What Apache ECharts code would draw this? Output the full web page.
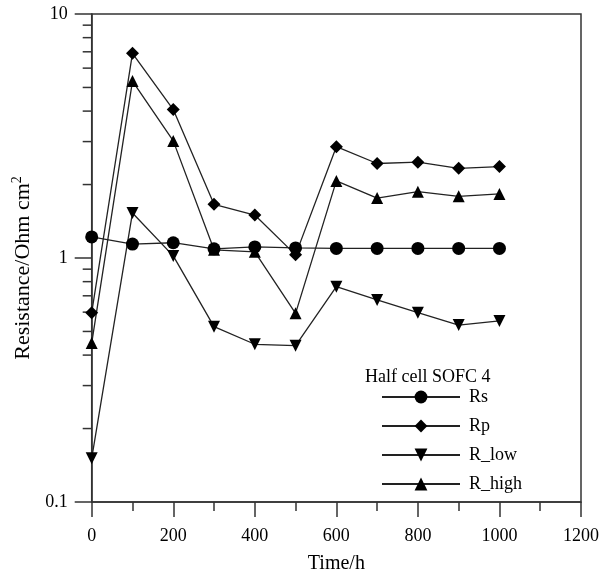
<!DOCTYPE html>
<html>
<head>
<meta charset="utf-8">
<script src="https://cdn.jsdelivr.net/npm/echarts@6/dist/echarts.min.js"></script>
<style>html,body{margin:0;padding:0;background:#fff}#c{width:613px;height:572px}</style>
</head>
<body>
<div id="c"></div>
<script>
const times = [0, 100, 200, 300, 400, 500, 600, 700, 800, 900, 1000];
const Rs    = [1.22, 1.14, 1.155, 1.09, 1.11, 1.10, 1.095, 1.095, 1.095, 1.095, 1.095];
const Rp    = [0.597, 6.90, 4.06, 1.66, 1.50, 1.03, 2.86, 2.44, 2.47, 2.33, 2.37];
const R_low = [0.151, 1.53, 1.02, 0.523, 0.443, 0.437, 0.763, 0.673, 0.597, 0.531, 0.552];
const R_high= [0.448, 5.31, 3.02, 1.08, 1.06, 0.593, 2.07, 1.76, 1.87, 1.79, 1.83];
const minorYTicks = [0.2,0.3,0.4,0.5,0.6,0.7,0.8,0.9,2,3,4,5,6,7,8,9];
const legendTitle = 'Half cell SOFC 4';

const FONT = 'Liberation Serif';
const INK = '#222';
const AX = '#333';

function pairs(ys){ return times.map((t,i)=>[t, ys[i]]); }

function mk(name, ys, symbol, size, rotate){
  return {
    name, type:'line', data: pairs(ys), symbol, symbolSize:size, symbolRotate: rotate||0,
    clip:false, lineStyle:{color:INK, width:1.3}, itemStyle:{color:'#000'},
    emphasis:{disabled:true}, animation:false, z:3
  };
}

const chart = echarts.init(document.getElementById('c'), null, {renderer:'canvas'});
chart.setOption({
  animation:false,
  backgroundColor:'#fff',
  textStyle:{fontFamily:FONT},
  grid:{left:91.7, right:32, top:14, bottom:70, show:true, borderColor:AX, borderWidth:1.5,
    backgroundColor:'transparent', containLabel:false, outerBoundsMode:'none'},
  title:{text:legendTitle, left:365, top:368, padding:0,
    textStyle:{fontFamily:FONT, fontSize:18, fontWeight:'normal', color:'#000'}},
  legend:{
    orient:'vertical', left:381, top:388, padding:0, itemWidth:78, itemHeight:16, itemGap:11,
    data:['Rs','Rp','R_low','R_high'],
    textStyle:{fontFamily:FONT, fontSize:18, lineHeight:18, color:'#000', padding:[0,0,0,4]},
    selectedMode:false
  },
  xAxis:{
    type:'value', min:0, max:1200, interval:200,
    name:'Time/h', nameLocation:'middle', nameGap:52,
    nameTextStyle:{fontFamily:FONT, fontSize:20, color:'#000'},
    axisLine:{lineStyle:{color:AX, width:1.5}},
    axisTick:{length:15, lineStyle:{color:AX, width:1.5}},
    minorTick:{show:true, splitNumber:2, length:9, lineStyle:{color:AX, width:1.5}},
    axisLabel:{fontFamily:FONT, fontSize:18, color:'#000', margin:25, formatter:v=>String(v)},
    splitLine:{show:false}
  },
  yAxis:{
    type:'log', min:0.1, max:10, logBase:10,
    name:'Resistance/Ohm cm{sup|2}', nameLocation:'middle', nameGap:52,
    nameTextStyle:{fontFamily:FONT, fontSize:22, color:'#000', padding:[0,20,0,0],
      rich:{sup:{fontFamily:FONT, fontSize:14, color:'#000', verticalAlign:'top', padding:[0,0,12,0]}}},
    axisLine:{lineStyle:{color:AX, width:1.5}},
    axisTick:{length:17, lineStyle:{color:AX, width:1.5}},
    axisLabel:{fontFamily:FONT, fontSize:18, color:'#000', margin:24,
      formatter:v=> (v>=1? String(Math.round(v)) : String(+v.toFixed(1)))},
    splitLine:{show:false}
  },
  series:[
    mk('Rs', Rs, 'circle', 13),
    mk('Rp', Rp, 'diamond', 13),
    mk('R_low', R_low, 'triangle', 12, 180),
    mk('R_high', R_high, 'triangle', 12),
    {
      type:'custom', silent:true, animation:false, clip:false, z:2,
      data: minorYTicks.map(v=>[0, v]),
      renderItem:(params, api)=>{
        const p = api.coord([api.value(0), api.value(1)]);
        return {type:'line', shape:{x1:p[0]-9, y1:p[1], x2:p[0], y2:p[1]},
          style:{stroke:AX, lineWidth:1.5}};
      }
    }
  ]
});
</script>
</body>
</html>
